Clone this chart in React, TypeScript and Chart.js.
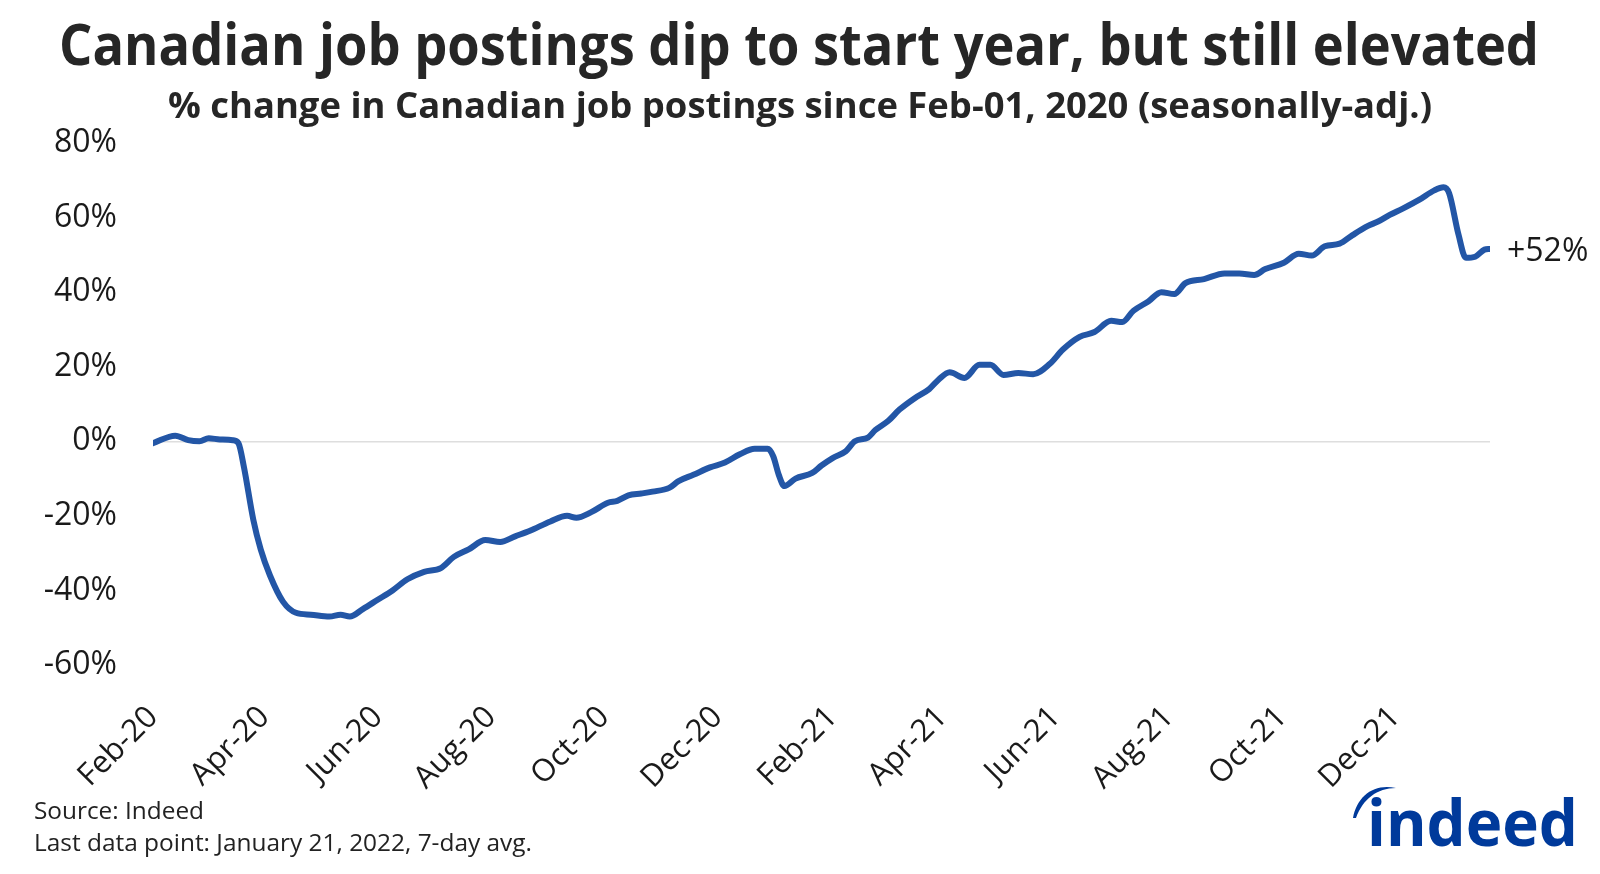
import React, { useEffect, useLayoutEffect, useRef } from "react";
import { Chart, registerables } from "chart.js";

Chart.register(...registerables);

// ---------- text ----------
const TITLE = "Canadian job postings dip to start year, but still elevated";
const SUBTITLE = "% change in Canadian job postings since Feb-01, 2020 (seasonally-adj.)";
const SOURCE = "Source: Indeed";
const NOTE = "Last data point: January 21, 2022, 7-day avg.";
const END_LABEL = "+52%";
const LOGO = "indeed";

// ---------- data ----------
const START_DATE = "2020-02-01";
const END_DATE = "2022-01-21";
// days since Feb-01, 2020
const dayOffsets = [
  0, 12, 19, 25, 30, 36, 43, 46, 49, 54, 58, 63, 70, 77, 85, 95, 101, 106, 113, 121,
  129, 137, 146, 155, 162, 170, 179, 187, 195, 203, 214, 223, 228, 236, 245, 250, 256, 263, 269, 278,
  283, 291, 300, 308, 316, 324, 331, 334, 337, 340, 346, 355, 360, 366, 373, 378, 385, 389, 396, 402,
  410, 418, 423, 429, 437, 445, 451, 458, 466, 474, 483, 490, 499, 507, 516, 522, 528, 536, 543, 550,
  556, 566, 577, 585, 593, 599, 609, 617, 624, 631, 639, 646, 654, 660, 666, 673, 682, 690, 695, 698,
  703, 707, 712, 717, 720,
];
// % change in job postings since Feb-01, 2020
const postingsChange = [
  -0.5, 1.5, 0.3, 0.0, 0.8, 0.5, 0.3, -0.5, -7, -21, -29, -36, -43, -46, -46.5, -47, -46.5, -47, -45, -42.5,
  -40, -37, -35, -34, -31, -29, -26.5, -27, -25.5, -24, -21.5, -20, -20.5, -19, -16.5, -16, -14.5, -14, -13.5, -12.5,
  -10.7, -9, -7, -5.7, -3.5, -2, -2, -4, -9, -12, -10, -8.5, -6.5, -4.5, -2.7, 0, 1, 3, 5.5, 8.5,
  11.5, 14, 16.5, 18.5, 17, 20.5, 20.5, 17.8, 18.3, 18, 20.8, 24.6, 28, 29.3, 32.3, 32, 35, 37.5, 40, 39.5,
  42.4, 43.5, 45, 45, 44.6, 46.2, 47.9, 50.3, 49.8, 52.3, 53, 55.3, 57.7, 59, 60.7, 62.4, 64.8, 67.3, 68.1, 66.5,
  55.5, 49.2, 49.5, 51.4, 51.6,
];

const tickDates = [
  "2020-02-01", "2020-04-01", "2020-06-01", "2020-08-01", "2020-10-01", "2020-12-01",
  "2021-02-01", "2021-04-01", "2021-06-01", "2021-08-01", "2021-10-01", "2021-12-01",
];
const tickLabels = [
  "Feb-20", "Apr-20", "Jun-20", "Aug-20", "Oct-20", "Dec-20",
  "Feb-21", "Apr-21", "Jun-21", "Aug-21", "Oct-21", "Dec-21",
];
const yTicks = [-60, -40, -20, 0, 20, 40, 60, 80];

const dayOf = (iso: string) =>
  Math.round((Date.parse(iso + "T00:00:00Z") - Date.parse(START_DATE + "T00:00:00Z")) / 86400000);

const FONT = "'Open Sans', 'Noto Sans', sans-serif";

function FitText(props: {
  text: string; left: number; baseline: number; width: number; size: number;
  weight?: number; color?: string; family?: string;
}) {
  const ref = useRef<HTMLSpanElement>(null);
  useLayoutEffect(() => {
    const fit = () => {
      const el = ref.current;
      if (!el) return;
      el.style.transform = "none";
      const w = el.getBoundingClientRect().width;
      if (w > 0) el.style.transform = `scaleX(${props.width / w})`;
    };
    fit();
    (document as any).fonts?.ready?.then(fit);
  }, [props.text, props.width, props.size]);
  return (
    <span
      ref={ref}
      style={{
        position: "absolute",
        left: props.left,
        top: props.baseline - 0.888 * props.size,
        fontSize: props.size,
        lineHeight: `${props.size}px`,
        fontWeight: props.weight ?? 400,
        color: props.color ?? "#222",
        fontFamily: props.family ?? FONT,
        whiteSpace: "nowrap",
        transformOrigin: "0 0",
        display: "inline-block",
      }}
    >
      {props.text}
    </span>
  );
}

export default function App() {
  const canvasRef = useRef<HTMLCanvasElement>(null);

  useEffect(() => {
    const canvas = canvasRef.current;
    if (!canvas) return;
    const tickDays = tickDates.map(dayOf);
    const endDay = dayOf(END_DATE);

    const endLabelPlugin = {
      id: "endLabel",
      afterDatasetsDraw(chart: any) {
        const meta = chart.getDatasetMeta(0);
        const pt = meta.data[meta.data.length - 1];
        if (!pt) return;
        const ctx = chart.ctx;
        ctx.save();
        ctx.font = `400 32px ${FONT}`;
        ctx.fillStyle = "#1a1a1a";
        ctx.textAlign = "left";
        ctx.textBaseline = "middle";
        ctx.fillText(END_LABEL, pt.x + 17, pt.y + 3);
        ctx.restore();
      },
    };

    const chart = new Chart(canvas, {
      type: "line",
      data: {
        datasets: [
          {
            data: dayOffsets.map((d, i) => ({ x: d, y: postingsChange[i] })),
            borderColor: "#2356a6",
            borderWidth: 6,
            pointRadius: 0,
            cubicInterpolationMode: "monotone",
            borderCapStyle: "round",
            borderJoinStyle: "round",
            fill: false,
          },
        ],
      },
      options: {
        animation: false,
        responsive: false,
        maintainAspectRatio: false,
        layout: { padding: { left: 0, right: 110, top: 143, bottom: 0 } },
        plugins: { legend: { display: false }, tooltip: { enabled: false }, title: { display: false } },
        scales: {
          x: {
            type: "linear",
            min: 0,
            max: endDay,
            grid: { display: false, drawTicks: false },
            border: { display: false },
            afterBuildTicks: (s: any) => {
              s.ticks = tickDays.map((v) => ({ value: v }));
            },
            afterFit: (s: any) => {
              s.height = 874 - 665;
            },
            ticks: {
              autoSkip: false,
              minRotation: 45,
              maxRotation: 45,
              padding: 34,
              color: "#1a1a1a",
              font: { family: FONT, size: 31 },
              callback: (_v: any, i: number) => tickLabels[i],
            },
          },
          y: {
            min: -60,
            max: 80,
            afterBuildTicks: (s: any) => {
              s.ticks = yTicks.map((v) => ({ value: v }));
            },
            afterFit: (s: any) => {
              s.width = 153;
            },
            grid: {
              drawTicks: false,
              lineWidth: 1.5,
              color: (c: any) => (c.tick && c.tick.value === 0 ? "#dedede" : "rgba(0,0,0,0)"),
            },
            border: { display: false },
            ticks: {
              padding: 36,
              color: "#1a1a1a",
              font: { family: FONT, size: 32 },
              callback: (v: any) => `${v}%`,
            },
          },
        },
      },
      plugins: [endLabelPlugin],
    });
    return () => chart.destroy();
  }, []);

  return (
    <div style={{ position: "absolute", left: 0, top: 0, width: 1600, height: 874, background: "#fff", overflow: "hidden" }}>
      <canvas ref={canvasRef} width={1600} height={874} style={{ position: "absolute", left: 0, top: 0, width: 1600, height: 874 }} />
      <FitText text={TITLE} left={59} baseline={66} width={1480} size={58} weight={700} color="#262626" />
      <FitText text={SUBTITLE} left={168} baseline={119} width={1264} size={36} weight={700} color="#262626" />
      <FitText text={SOURCE} left={34} baseline={819} width={170} size={24} color="#222" />
      <FitText text={NOTE} left={34} baseline={851} width={498} size={24} color="#222" />
      <svg width={1600} height={874} style={{ position: "absolute", left: 0, top: 0, pointerEvents: "none" }}>
        <path d="M 1353 818 C 1357 796, 1374 783, 1396 788 C 1377 788, 1363 799, 1356 818 Z" fill="#003a9b" />
      </svg>
      <FitText text={LOGO} left={1367} baseline={847} width={211} size={64} weight={700} color="#003a9b" family="'Open Sans', sans-serif" />
    </div>
  );
}
